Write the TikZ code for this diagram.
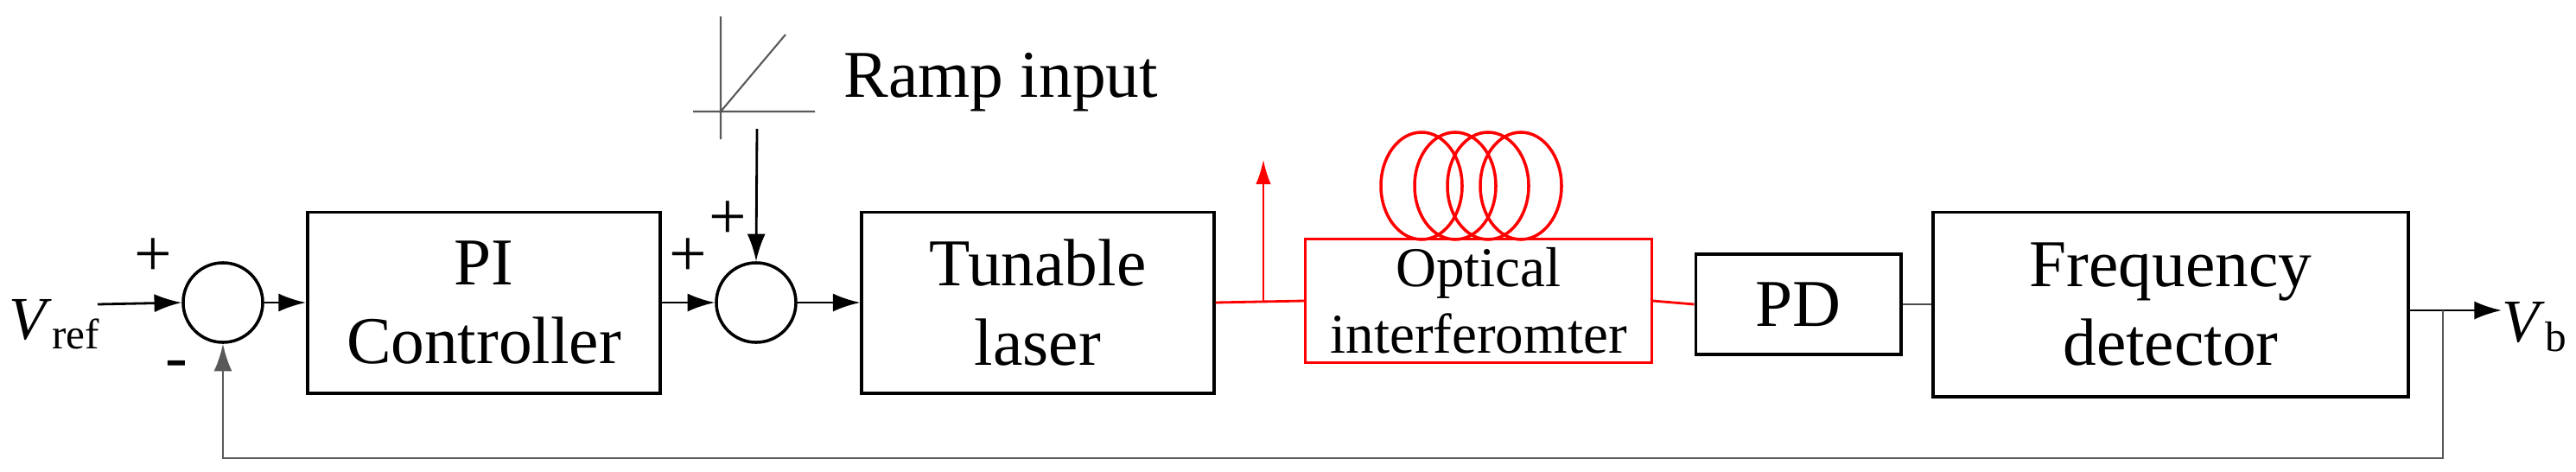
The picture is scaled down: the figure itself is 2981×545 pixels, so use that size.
\documentclass[tikz,border=0pt]{standalone}
\usepackage{fontspec}
\setmainfont{LiberationSerif}[Extension=.ttf,UprightFont=*-Regular,ItalicFont=*-Italic,BoldFont=*-Bold]
\newcommand\tnr{\rmfamily}
\usetikzlibrary{arrows.meta}
\begin{document}
\begin{tikzpicture}[x=0.01cm,y=-0.01cm,
  blk/.style={draw,line width=1.1pt,inner sep=0pt,align=center,font=\tnr\fontsize{22}{26}\selectfont},
  sum/.style={draw,circle,line width=1pt,minimum size=0.92cm,inner sep=0pt},
  sig/.style={line width=0.8pt,-{Latex[length=9pt,width=6pt]}},
  ln/.style={line width=0.8pt},
  lbl/.style={font=\tnr\fontsize{22}{26}\selectfont,inner sep=0pt},
  vl/.style={font=\tnr\fontsize{20}{24}\selectfont,inner sep=0pt}]
\useasboundingbox (0,0) rectangle (2981,545);
% blocks
\node[sum] (s1) at (258,350) {};
\node[blk,minimum width=4.08cm,minimum height=2.09cm] (pi) at (560,350) {PI\\Controller};
\node[sum] (s2) at (875,350) {};
\node[blk,minimum width=4.07cm,minimum height=2.09cm] (tl) at (1201,350) {Tunable\\laser};
\node[blk,draw=red,line width=0.8pt,minimum width=4.0cm,minimum height=1.43cm,font=\tnr\fontsize{18.5}{22}\selectfont] (oi) at (1711,348) {Optical\\interferomter};
\node[blk,minimum width=2.37cm,minimum height=1.16cm] (pd) at (2081,352) {PD};
\node[blk,minimum width=5.5cm,minimum height=2.13cm] (fd) at (2512,352) {Frequency\\detector};
% coils
\foreach \cx in {1645,1684,1722,1760}
  \draw[red,line width=1pt] (\cx,215) ellipse [x radius=47,y radius=62];
% input
\node[vl,anchor=west] (vref) at (10,375) {\textit{V}\textsubscript{ref}};
\coordinate (vin) at (113,352);
\draw[sig] (vin) -- (s1.west);
\draw[sig] (s1.east) -- (pi.west);
\draw[sig] (pi.east) -- (s2.west);
\draw[sig] (s2.east) -- (tl.west);
% ramp
\coordinate (ry1) at (834,19); \coordinate (ry2) at (834,161);
\coordinate (rx1) at (802,129); \coordinate (rx2) at (943,129);
\coordinate (rd) at (909,40);
\draw[line width=0.6pt,gray!70!black] (ry1) -- (ry2) (rx1) -- (rx2) (ry1|-rx1) -- (rd);
\node[lbl,anchor=west] (ramp) at (976,95) {Ramp input};
\coordinate (rs) at (876,149);
\draw[sig] (rs) -- (s2.north);
% signs
\node[lbl] (p1) at (177,298) {+};
\node[lbl] (p2) at (796,298) {+};
\node[lbl] (p3) at (842,255) {+};
\node[lbl] (m1) at (204,428) {-};
% optical path
\coordinate (tap) at (1462,350);
\coordinate (taptop) at (1462,185);
\draw[red,ln] (tl.east) -- (oi.west);
\draw[red,line width=0.6pt,-{Latex[length=8pt,width=5pt]}] (tap) -- (taptop);
\draw[red,ln] (oi.east) -- (pd.west);
\draw[gray!60!black,ln] (pd.east) -- (fd.west);
% output
\coordinate (fo) at (2787,359);
\node[vl,anchor=west] (vb) at (2895,378) {\textit{V}\textsubscript{b}};
\draw[sig] (fo) -- (vb.west|-fo);
\coordinate (fb) at (2827,359);
\draw[line width=0.8pt,gray!70!black,-{Latex[length=9pt,width=6pt]}] (fb) -- (2827,530) -- (258,530) -- (s1.south);
\end{tikzpicture}
\end{document}
